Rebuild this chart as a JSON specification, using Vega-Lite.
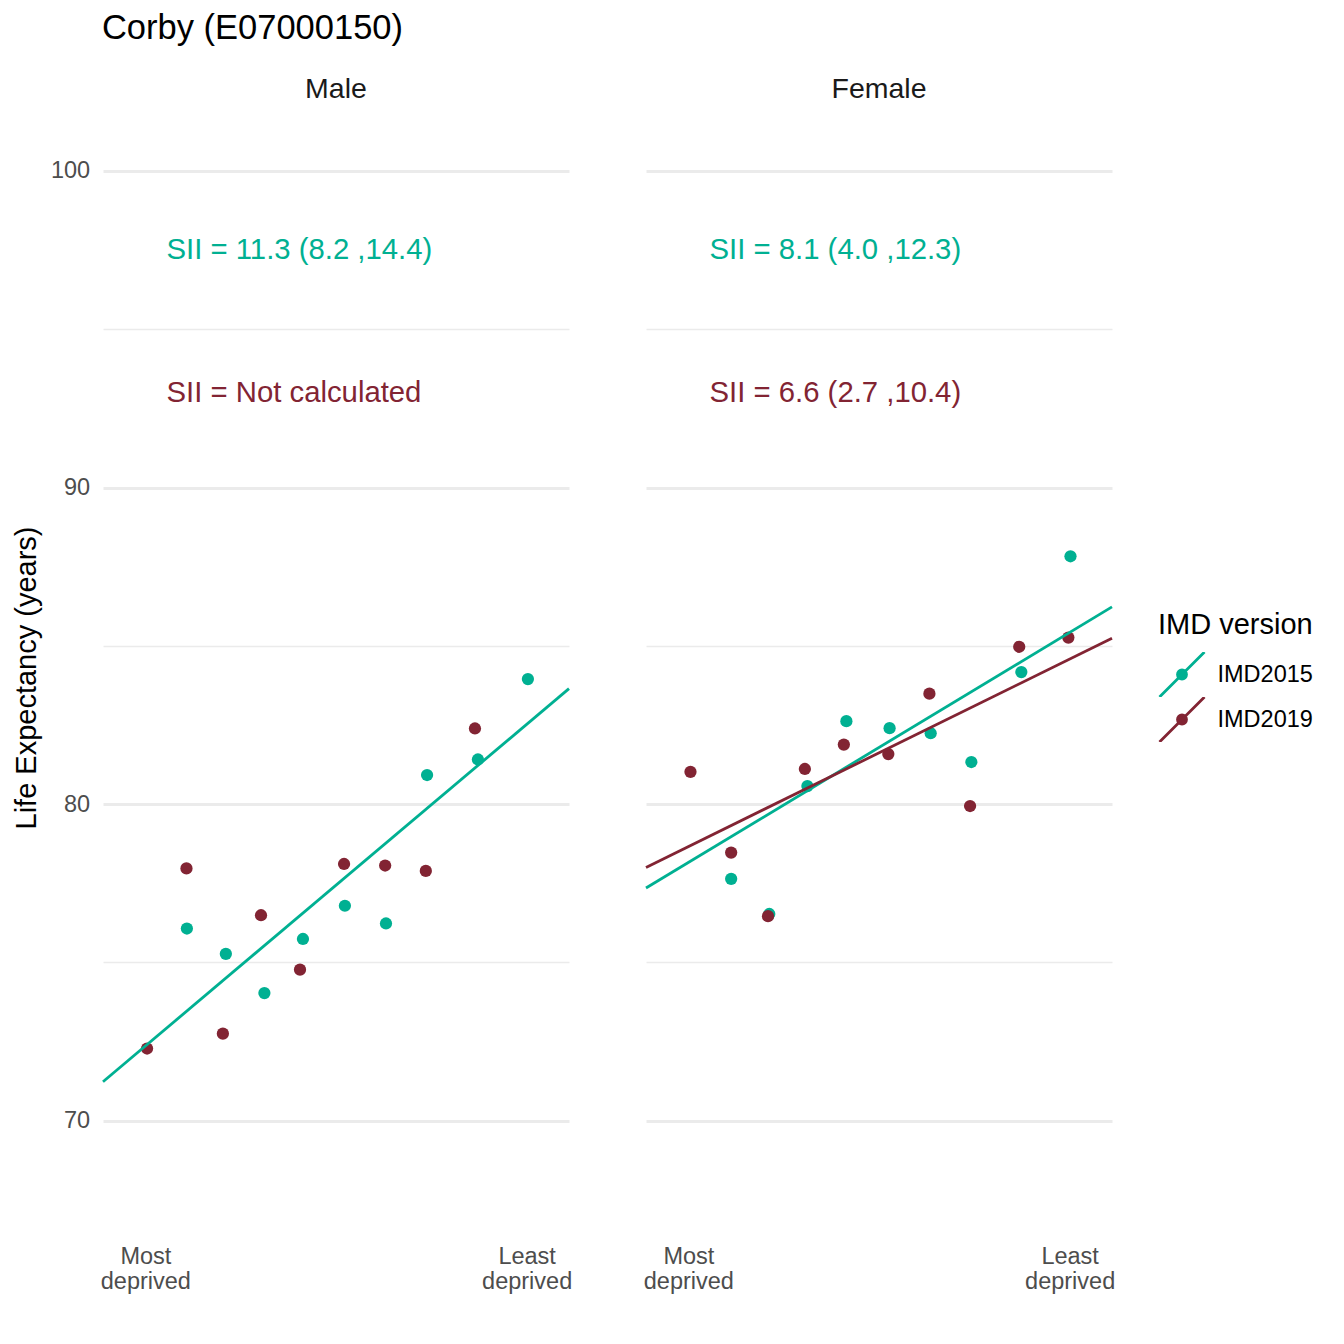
{
  "$schema": "https://vega.github.io/schema/vega-lite/v6.json",
  "padding": {"left": 12, "top": 11, "right": 5, "bottom": 5},
  "bounds": "flush",
  "title": {"text": "Corby (E07000150)", "anchor": "start", "fontSize": 34.5, "fontWeight": "normal", "color": "#000000", "font": "Liberation Sans", "offset": 28, "dx": 89},
  "data": {"values": [
    {"sex": "Male", "imd": "IMD2015", "kind": "point", "x": 0.148, "y": 76.07},
    {"sex": "Male", "imd": "IMD2015", "kind": "point", "x": 0.240, "y": 75.27},
    {"sex": "Male", "imd": "IMD2015", "kind": "point", "x": 0.331, "y": 74.03},
    {"sex": "Male", "imd": "IMD2015", "kind": "point", "x": 0.422, "y": 75.74},
    {"sex": "Male", "imd": "IMD2015", "kind": "point", "x": 0.521, "y": 76.79},
    {"sex": "Male", "imd": "IMD2015", "kind": "point", "x": 0.618, "y": 76.23},
    {"sex": "Male", "imd": "IMD2015", "kind": "point", "x": 0.715, "y": 80.92},
    {"sex": "Male", "imd": "IMD2015", "kind": "point", "x": 0.835, "y": 81.41},
    {"sex": "Male", "imd": "IMD2015", "kind": "point", "x": 0.953, "y": 83.95},
    {"sex": "Male", "imd": "IMD2019", "kind": "point", "x": 0.054, "y": 72.28},
    {"sex": "Male", "imd": "IMD2019", "kind": "point", "x": 0.147, "y": 77.97},
    {"sex": "Male", "imd": "IMD2019", "kind": "point", "x": 0.233, "y": 72.75},
    {"sex": "Male", "imd": "IMD2019", "kind": "point", "x": 0.323, "y": 76.49},
    {"sex": "Male", "imd": "IMD2019", "kind": "point", "x": 0.415, "y": 74.77},
    {"sex": "Male", "imd": "IMD2019", "kind": "point", "x": 0.519, "y": 78.11},
    {"sex": "Male", "imd": "IMD2019", "kind": "point", "x": 0.616, "y": 78.06},
    {"sex": "Male", "imd": "IMD2019", "kind": "point", "x": 0.712, "y": 77.89},
    {"sex": "Male", "imd": "IMD2019", "kind": "point", "x": 0.828, "y": 82.39},
    {"sex": "Female", "imd": "IMD2015", "kind": "point", "x": 0.151, "y": 77.64},
    {"sex": "Female", "imd": "IMD2015", "kind": "point", "x": 0.241, "y": 76.53},
    {"sex": "Female", "imd": "IMD2015", "kind": "point", "x": 0.331, "y": 80.57},
    {"sex": "Female", "imd": "IMD2015", "kind": "point", "x": 0.423, "y": 82.62},
    {"sex": "Female", "imd": "IMD2015", "kind": "point", "x": 0.525, "y": 82.40},
    {"sex": "Female", "imd": "IMD2015", "kind": "point", "x": 0.622, "y": 82.24},
    {"sex": "Female", "imd": "IMD2015", "kind": "point", "x": 0.718, "y": 81.33},
    {"sex": "Female", "imd": "IMD2015", "kind": "point", "x": 0.836, "y": 84.17},
    {"sex": "Female", "imd": "IMD2015", "kind": "point", "x": 0.952, "y": 87.83},
    {"sex": "Female", "imd": "IMD2019", "kind": "point", "x": 0.055, "y": 81.02},
    {"sex": "Female", "imd": "IMD2019", "kind": "point", "x": 0.151, "y": 78.47},
    {"sex": "Female", "imd": "IMD2019", "kind": "point", "x": 0.238, "y": 76.46},
    {"sex": "Female", "imd": "IMD2019", "kind": "point", "x": 0.325, "y": 81.11},
    {"sex": "Female", "imd": "IMD2019", "kind": "point", "x": 0.417, "y": 81.88},
    {"sex": "Female", "imd": "IMD2019", "kind": "point", "x": 0.522, "y": 81.58},
    {"sex": "Female", "imd": "IMD2019", "kind": "point", "x": 0.619, "y": 83.49},
    {"sex": "Female", "imd": "IMD2019", "kind": "point", "x": 0.715, "y": 79.94},
    {"sex": "Female", "imd": "IMD2019", "kind": "point", "x": 0.831, "y": 84.97},
    {"sex": "Female", "imd": "IMD2019", "kind": "point", "x": 0.947, "y": 85.26},
    {"sex": "Male", "imd": "IMD2015", "kind": "line", "x": -0.05, "y": 71.23},
    {"sex": "Male", "imd": "IMD2015", "kind": "line", "x": 1.05, "y": 83.65},
    {"sex": "Female", "imd": "IMD2015", "kind": "line", "x": -0.05, "y": 77.35},
    {"sex": "Female", "imd": "IMD2015", "kind": "line", "x": 1.05, "y": 86.23},
    {"sex": "Female", "imd": "IMD2019", "kind": "line", "x": -0.05, "y": 78.00},
    {"sex": "Female", "imd": "IMD2019", "kind": "line", "x": 1.05, "y": 85.24},
    {"sex": "Male", "imd": "IMD2015", "kind": "label", "x": 0.1, "y": 97.5, "label": "SII = 11.3 (8.2 ,14.4)"},
    {"sex": "Male", "imd": "IMD2019", "kind": "label", "x": 0.1, "y": 93.0, "label": "SII = Not calculated"},
    {"sex": "Female", "imd": "IMD2015", "kind": "label", "x": 0.1, "y": 97.5, "label": "SII = 8.1 (4.0 ,12.3)"},
    {"sex": "Female", "imd": "IMD2019", "kind": "label", "x": 0.1, "y": 93.0, "label": "SII = 6.6 (2.7 ,10.4)"}
  ]},
  "facet": {
    "column": {"field": "sex", "type": "nominal", "sort": ["Male", "Female"],
      "header": {"title": null, "labelFontSize": 28.5, "labelColor": "#1a1a1a", "labelFont": "Liberation Sans", "labelPadding": 11}}
  },
  "spacing": 77,
  "spec": {
    "width": 466,
    "height": 1127,
    "encoding": {
      "x": {"field": "x", "type": "quantitative",
        "scale": {"domain": [-0.05, 1.05], "nice": false, "zero": false},
        "axis": {"title": null, "grid": false, "domain": false, "ticks": false, "values": [0.05, 0.95],
          "labelExpr": "datum.value < 0.5 ? ['Most', 'deprived'] : ['Least', 'deprived']",
          "labelFontSize": 23.5, "labelColor": "#4d4d4d", "labelLineHeight": 25, "labelPadding": 3, "labelFont": "Liberation Sans"}},
      "y": {"field": "y", "type": "quantitative",
        "scale": {"domain": [66.2, 101.8], "nice": false, "zero": false},
        "axis": {"title": "Life Expectancy (years)", "values": [70, 75, 80, 85, 90, 95, 100],
          "labelExpr": "datum.value % 10 === 0 ? datum.label : ''",
          "domain": false, "ticks": false, "grid": true, "gridColor": "#ebebeb",
          "gridWidth": {"condition": {"test": "datum.value % 10 === 0", "value": 2.8}, "value": 1.4},
          "labelFontSize": 23.5, "labelColor": "#4d4d4d", "labelPadding": 13.4, "labelFont": "Liberation Sans",
          "titleFontSize": 29, "titleFontWeight": "normal", "titleColor": "#000000", "titlePadding": 8.5, "titleFont": "Liberation Sans"}},
      "color": {"field": "imd", "type": "nominal",
        "scale": {"domain": ["IMD2015", "IMD2019"], "range": ["#00B092", "#822433"]},
        "legend": {"title": "IMD version", "orient": "none", "legendX": 1055, "legendY": 497,
          "titleFontSize": 29, "titleFontWeight": "normal", "titleColor": "#000000", "titleFont": "Liberation Sans", "titlePadding": 12,
          "labelFontSize": 23.5, "labelColor": "#000000", "labelFont": "Liberation Sans", "labelOffset": 11.5,
          "symbolType": "M-1,1L1,-1M0.2,0A0.2,0.2,0,1,1,-0.2,0A0.2,0.2,0,1,1,0.2,0Z",
          "symbolSize": 2025, "symbolStrokeWidth": 2.8, "rowPadding": 0, "clipHeight": 45,
          "encode": {"symbols": {"update": {"fill": {"scale": "color", "field": "value"}, "stroke": {"scale": "color", "field": "value"}, "opacity": {"value": 1}}}}}}
    },
    "layer": [
      {"transform": [{"filter": "datum.kind === 'point'"}],
       "mark": {"type": "point", "filled": true, "size": 150, "opacity": 1}},
      {"transform": [{"filter": "datum.kind === 'line'"}],
       "mark": {"type": "line", "strokeWidth": 2.8},
       "encoding": {"detail": {"field": "imd"}}},
      {"transform": [{"filter": "datum.kind === 'label'"}],
       "mark": {"type": "text", "align": "left", "baseline": "middle", "fontSize": 29.3, "font": "Liberation Sans"},
       "encoding": {"text": {"field": "label"}}}
    ]
  },
  "config": {"view": {"stroke": null}, "font": "Liberation Sans"}
}
